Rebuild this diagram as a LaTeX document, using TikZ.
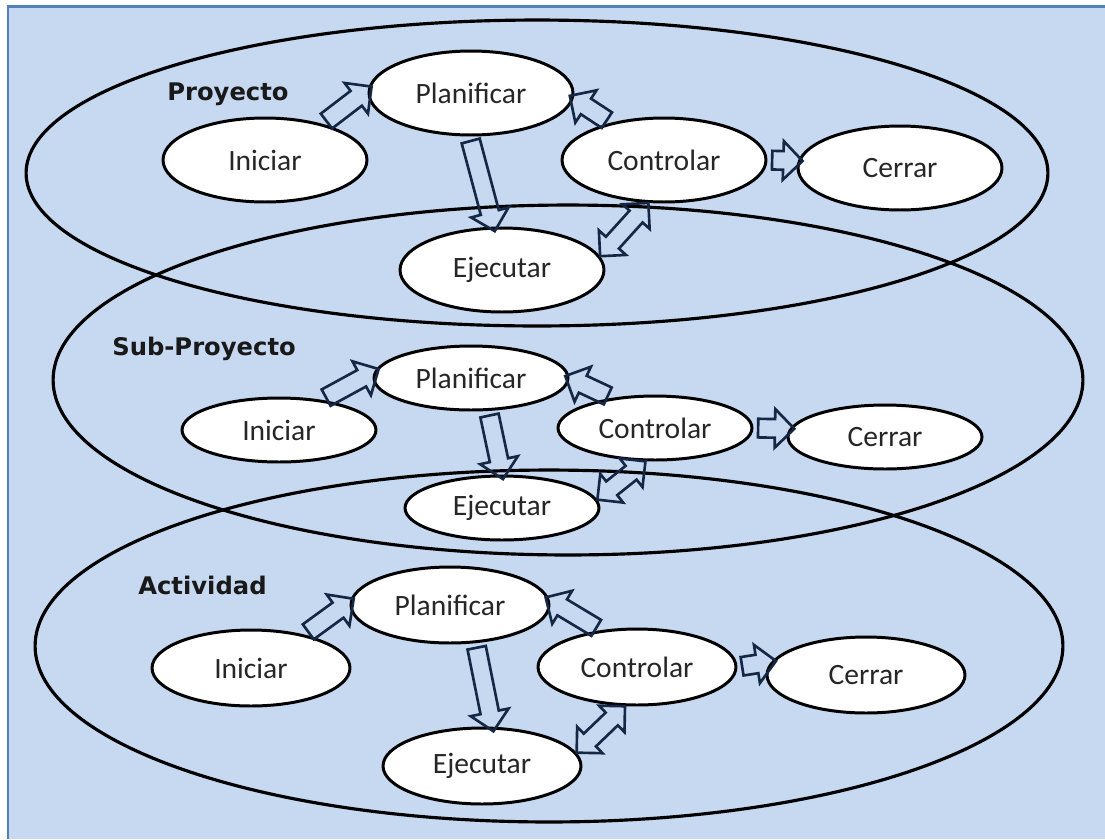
\documentclass[tikz,border=0pt]{standalone}
\usepackage{fontspec}
\setmainfont{Carlito}
\newfontfamily\titlefont{DejaVu Sans}
\usepackage{tikz}
\usetikzlibrary{calc,shapes.geometric,shapes.arrows}
\definecolor{bgblue}{RGB}{198,217,241}
\definecolor{framec}{RGB}{79,129,189}
\definecolor{arrnavy}{RGB}{20,40,70}

% hollow block arrow between two anchors
\newcommand{\blockarr}[3][barrow]{%
  \path let \p1=($(#3)-(#2)$), \n1={veclen(\x1,\y1)}, \n2={atan2(\y1,\x1)} in
    node[#1,minimum height=\n1,rotate=\n2] at ($(#2)!0.5!(#3)$) {};}

\begin{document}
\begin{tikzpicture}[x=0.02cm,y=-0.02cm,
  ring/.style={draw,line width=1.8pt,ellipse,inner sep=0pt},
  phase/.style={draw,line width=1.7pt,fill=white,ellipse,inner sep=0pt,
    font=\fontsize{16.8}{20}\selectfont,text=black!85},
  box1/.style={phase,minimum width=4.08cm,minimum height=1.68cm},
  box2/.style={phase,minimum width=3.88cm,minimum height=1.28cm},
  box3/.style={phase,minimum width=3.96cm,minimum height=1.52cm},
  title/.style={font=\titlefont\bfseries\fontsize{13.8}{16}\selectfont,anchor=base west,
    inner sep=0pt,text=black!90},
  barrow/.style={single arrow,draw=arrnavy,line width=1.5pt,inner xsep=0pt,inner ysep=0.16cm,
    single arrow head extend=0.2cm},
  dbarrow/.style={double arrow,draw=arrnavy,line width=1.5pt,inner xsep=0pt,inner ysep=0.15cm,
    double arrow head extend=0.19cm}
]
  \useasboundingbox (0,0) rectangle (1105,839);
  \fill[white] (0,0) rectangle (1105,839);
  \fill[bgblue] (8,6) rectangle (1105,839);
  \draw[framec,line width=0.06cm] (8,839) -- (8,6) -- (1105,6);

  % levels
  \node[ring,minimum width=20.44cm,minimum height=6.12cm] (proy) at (537,173) {};
  \node[ring,minimum width=20.6cm,minimum height=7cm] (subp) at (568,380) {};
  \node[ring,minimum width=20.56cm,minimum height=7.04cm] (acti) at (549,646) {};

  % Proyecto
  \node[title] (tproy) at (167,100) {Proyecto};
  \node[box1] (ini1) at (265,160) {Iniciar};
  \node[box1] (pla1) at (471,93) {Planificar};
  \node[box1] (con1) at (664,160) {Controlar};
  \node[box1] (cer1) at (900,168) {Cerrar};
  \node[box1] (eje1) at (502,270) {Ejecutar};
  \blockarr{ini1.32}{pla1.178}
  \blockarr{pla1.268}{eje1.101}
  \blockarr{con1.145}{pla1.357}
  \blockarr{con1.east}{cer1.176}
  \blockarr[dbarrow]{eje1.8}{con1.250}

  % Sub-Proyecto
  \node[title] (tsubp) at (112,355) {Sub-Proyecto};
  \node[box2] (ini2) at (279,430) {Iniciar};
  \node[box2] (pla2) at (471,378) {Planificar};
  \node[box2] (con2) at (655,428) {Controlar};
  \node[box2] (cer2) at (885,437) {Cerrar};
  \node[box2] (eje2) at (502,508) {Ejecutar};
  \blockarr{ini2.35}{pla2.176}
  \blockarr{pla2.298}{eje2.90}
  \blockarr{con2.145}{pla2.0}
  \blockarr{con2.east}{cer2.175}
  \blockarr[dbarrow]{eje2.5}{con2.254}

  % Actividad
  \node[title] (tacti) at (138,594) {Actividad};
  \node[box3] (ini3) at (251,668) {Iniciar};
  \node[box3] (pla3) at (450,605) {Planificar};
  \node[box3] (con3) at (637,667) {Controlar};
  \node[box3] (cer3) at (866,675) {Cerrar};
  \node[box3] (eje3) at (482,766) {Ejecutar};
  \blockarr{ini3.32}{pla3.178}
  \blockarr{pla3.304}{eje3.75}
  \blockarr{con3.135}{pla3.3}
  \blockarr{con3.east}{cer3.172}
  \blockarr[dbarrow]{eje3.8}{con3.253}
\end{tikzpicture}
\end{document}
